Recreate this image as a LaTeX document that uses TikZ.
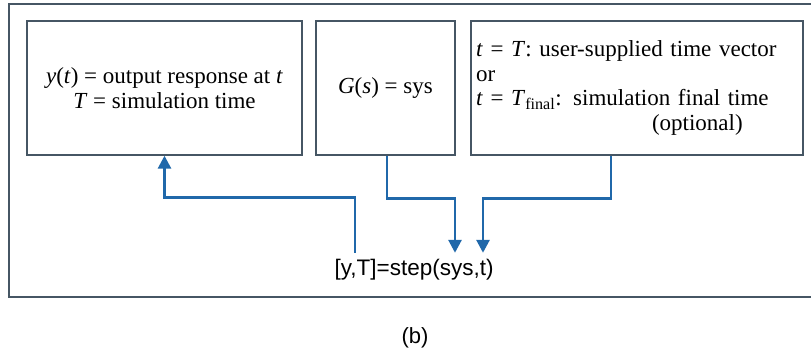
\documentclass[tikz,border=0pt]{standalone}
\usepackage{fontspec}
\setmainfont{Liberation Serif}
\setsansfont{Liberation Sans}
\usetikzlibrary{arrows.meta}
\definecolor{linkblue}{RGB}{32,104,170}
\definecolor{framegray}{RGB}{70,86,100}

\begin{document}
\begin{tikzpicture}[x=1pt,y=-1pt,
        box/.style={draw=framegray,line width=1.4pt,minimum height=134pt,inner sep=0pt,
            font=\fontsize{23}{24.5}\selectfont},
        link/.style={draw=linkblue,line width=2.8pt,-{Triangle[width=13pt,length=13pt]}}]
    \useasboundingbox (0,0) rectangle (811,353);
    \draw[framegray,line width=1.4pt] (811,4) -| (9,297) -- (811,297);
    \node[box,minimum width=275pt,align=center] (out) at (164.5,88)
        {\textit{y}(\textit{t}) = output response at \textit{t}\\\textit{T} = simulation time};
    \node[box,minimum width=139pt] (sys) at (385.5,88) {\textit{G}(\textit{s}) = sys};
    \node[box,minimum width=332pt,text width=322pt,inner xsep=5pt,align=left] (time) at (637,88)
        {\textit{t} = \textit{T}: user-supplied time vector\\or\\
         \textit{t} = \textit{T}\textsubscript{final}: simulation final time\\
         \hspace*{176pt}(optional)};
    \node[font=\sffamily\fontsize{22.5}{24}\selectfont,text height=16pt,text depth=5pt,
        inner xsep=0pt,inner ysep=6.5pt] (step) at (414,270) {[y,T]=step(sys,t)};
    \draw[link] ([xshift=-59pt]step.north) -- ++(0,-55) -| (out.south);
    \foreach \src/\sx/\dx in {sys/1.5/41, time/-26/69}
        \draw[link] ([xshift=\sx pt]\src.south) -- ++(0,43) -| ([xshift=\dx pt]step.north);
    \node[font=\sffamily\fontsize{22}{24}\selectfont] (cap) at (415,338) {(b)};
\end{tikzpicture}
\end{document}
